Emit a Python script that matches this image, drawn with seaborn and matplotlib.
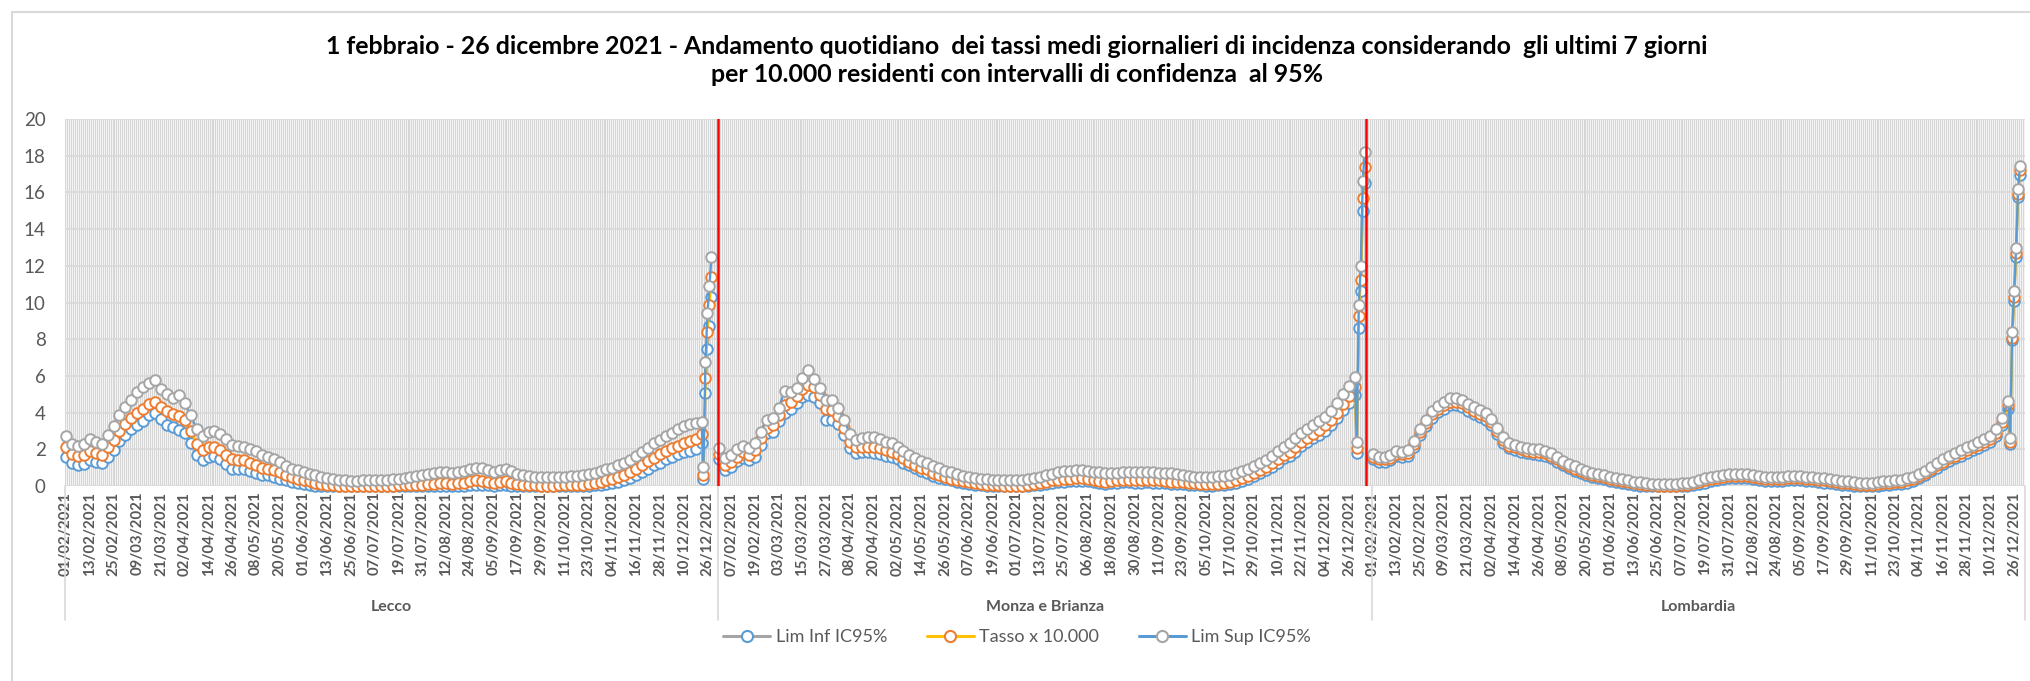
import numpy as np
import pandas as pd
import matplotlib
matplotlib.use('Agg')
import matplotlib.pyplot as plt
import seaborn as sns
from matplotlib.lines import Line2D
from matplotlib.patches import Rectangle

sns.set_theme(style='white')
plt.rcParams['font.family'] = ['Lato', 'DejaVu Sans']

# ---------------------------------------------------------------------------
# Data. Body values every 3rd day, then the last days one by one
# ---------------------------------------------------------------------------
regions = ['Lecco', 'Monza e Brianza', 'Lombardia']
n_slots = 330   # categories per region on the axis
step = 3        # body values are sampled every 3rd category

lecco_tasso = [2.15, 1.75, 1.65, 1.70, 1.90, 1.80, 1.70, 2.10, 2.50, 3.00,
               3.40, 3.70, 4.00, 4.20, 4.45, 4.60, 4.30, 4.10, 3.95, 3.80,
               3.60, 3.00, 2.30, 1.95, 2.10, 2.10, 1.95, 1.70, 1.45, 1.40,
               1.40, 1.25, 1.15, 1.00, 0.95, 0.85, 0.75, 0.60, 0.50, 0.40,
               0.33, 0.25, 0.15, 0.10, 0.06, 0.04, 0.02, 0.00, 0.00, 0.00,
               0.00, 0.00, 0.00, 0.00, 0.01, 0.02, 0.03, 0.05, 0.05, 0.06,
               0.08, 0.10, 0.12, 0.15, 0.15, 0.13, 0.15, 0.18, 0.25, 0.30,
               0.28, 0.20, 0.15, 0.22, 0.25, 0.18, 0.10, 0.06, 0.04, 0.03,
               0.02, 0.02, 0.02, 0.03, 0.03, 0.04, 0.06, 0.08, 0.12, 0.16,
               0.22, 0.30, 0.38, 0.50, 0.62, 0.78, 0.95, 1.15, 1.35, 1.55,
               1.72, 1.90, 2.05, 2.20, 2.35, 2.45, 2.55, 2.85]
lecco_sup = [2.70, 2.30, 2.20, 2.30, 2.55, 2.40, 2.30, 2.80, 3.25, 3.85,
             4.30, 4.70, 5.10, 5.40, 5.60, 5.75, 5.30, 5.00, 4.80, 4.95,
             4.50, 3.85, 3.10, 2.70, 2.95, 3.00, 2.85, 2.55, 2.25, 2.20,
             2.15, 2.00, 1.90, 1.70, 1.60, 1.45, 1.30, 1.10, 0.95, 0.85,
             0.78, 0.68, 0.58, 0.50, 0.42, 0.38, 0.34, 0.30, 0.28, 0.28,
             0.30, 0.30, 0.30, 0.32, 0.34, 0.36, 0.40, 0.45, 0.48, 0.52,
             0.58, 0.64, 0.70, 0.76, 0.78, 0.72, 0.76, 0.82, 0.92, 1.00,
             0.98, 0.85, 0.78, 0.86, 0.90, 0.80, 0.66, 0.58, 0.52, 0.50,
             0.48, 0.48, 0.48, 0.50, 0.50, 0.52, 0.56, 0.60, 0.66, 0.72,
             0.80, 0.90, 1.00, 1.12, 1.25, 1.42, 1.62, 1.85, 2.08, 2.32,
             2.52, 2.72, 2.90, 3.08, 3.25, 3.38, 3.45, 3.50]
lecco_inf = [1.60, 1.25, 1.15, 1.20, 1.40, 1.30, 1.25, 1.60, 1.95, 2.45,
             2.80, 3.10, 3.35, 3.55, 3.85, 4.00, 3.65, 3.35, 3.20, 3.05,
             2.90, 2.35, 1.70, 1.40, 1.60, 1.65, 1.45, 1.20, 0.95, 0.95,
             0.95, 0.80, 0.70, 0.62, 0.58, 0.48, 0.40, 0.30, 0.22, 0.16,
             0.12, 0.07, 0.02, 0.00, 0.00, 0.00, 0.00, 0.00, 0.00, 0.00,
             0.00, 0.00, 0.00, 0.00, 0.00, 0.00, 0.00, 0.00, 0.00, 0.00,
             0.00, 0.00, 0.00, 0.01, 0.01, 0.00, 0.01, 0.02, 0.05, 0.07,
             0.06, 0.03, 0.01, 0.03, 0.05, 0.02, 0.00, 0.00, 0.00, 0.00,
             0.00, 0.00, 0.00, 0.00, 0.00, 0.00, 0.00, 0.00, 0.01, 0.03,
             0.05, 0.09, 0.14, 0.22, 0.32, 0.45, 0.60, 0.78, 0.95, 1.12,
             1.28, 1.45, 1.58, 1.72, 1.85, 1.93, 2.00, 2.33]
lecco_tasso_end = [0.60, 5.90, 8.41, 9.86, 11.40]
lecco_sup_end = [1.05, 6.78, 9.41, 10.90, 12.50]
lecco_inf_end = [0.36, 5.05, 7.45, 8.72, 10.30]

monza_tasso = [1.75, 1.15, 1.30, 1.60, 1.85, 1.70, 1.97, 2.60, 3.15, 3.33,
               3.85, 4.40, 4.60, 4.90, 5.30, 5.50, 5.40, 4.95, 4.20, 4.15,
               3.80, 3.15, 2.40, 2.15, 2.15, 2.15, 2.15, 2.08, 1.95, 1.88,
               1.72, 1.50, 1.33, 1.15, 1.00, 0.90, 0.72, 0.60, 0.48, 0.40,
               0.33, 0.27, 0.22, 0.16, 0.12, 0.07, 0.05, 0.03, 0.02, 0.00,
               0.00, 0.02, 0.06, 0.12, 0.18, 0.24, 0.30, 0.34, 0.38, 0.40,
               0.42, 0.44, 0.40, 0.34, 0.28, 0.24, 0.26, 0.30, 0.33, 0.33,
               0.30, 0.32, 0.34, 0.32, 0.30, 0.28, 0.24, 0.22, 0.20, 0.17,
               0.14, 0.11, 0.10, 0.10, 0.12, 0.16, 0.22, 0.30, 0.42, 0.55,
               0.70, 0.88, 1.05, 1.25, 1.48, 1.70, 1.88, 2.10, 2.42, 2.62,
               2.85, 3.05, 3.30, 3.60, 4.00, 4.45, 4.90, 5.40]
monza_sup = [2.05, 1.50, 1.70, 2.00, 2.20, 2.05, 2.33, 2.97, 3.60, 3.70,
             4.25, 5.20, 5.10, 5.35, 5.90, 6.30, 5.85, 5.35, 4.70, 4.70,
             4.25, 3.60, 2.85, 2.50, 2.60, 2.66, 2.68, 2.55, 2.42, 2.33,
             2.12, 1.90, 1.70, 1.52, 1.36, 1.24, 1.08, 0.96, 0.84, 0.76,
             0.66, 0.56, 0.50, 0.45, 0.40, 0.36, 0.34, 0.33, 0.32, 0.32,
             0.33, 0.35, 0.38, 0.42, 0.50, 0.58, 0.68, 0.76, 0.80, 0.84,
             0.86, 0.87, 0.84, 0.78, 0.74, 0.70, 0.70, 0.72, 0.74, 0.75,
             0.74, 0.76, 0.78, 0.76, 0.73, 0.72, 0.70, 0.66, 0.60, 0.55,
             0.51, 0.50, 0.50, 0.50, 0.52, 0.56, 0.62, 0.70, 0.80, 0.94,
             1.08, 1.25, 1.42, 1.65, 1.90, 2.15, 2.35, 2.60, 2.88, 3.10,
             3.32, 3.52, 3.78, 4.10, 4.50, 5.00, 5.45, 5.96]
monza_inf = [1.45, 0.87, 1.05, 1.35, 1.55, 1.40, 1.60, 2.24, 2.88, 2.97,
             3.55, 4.00, 4.20, 4.50, 4.85, 4.97, 4.85, 4.50, 3.60, 3.60,
             3.40, 2.80, 2.05, 1.80, 1.85, 1.88, 1.82, 1.76, 1.66, 1.60,
             1.45, 1.28, 1.15, 0.96, 0.80, 0.70, 0.52, 0.44, 0.36, 0.30,
             0.22, 0.14, 0.10, 0.06, 0.03, 0.00, 0.00, 0.00, 0.00, 0.00,
             0.00, 0.00, 0.00, 0.04, 0.08, 0.12, 0.17, 0.20, 0.24, 0.26,
             0.28, 0.29, 0.26, 0.21, 0.16, 0.12, 0.14, 0.17, 0.20, 0.20,
             0.17, 0.19, 0.21, 0.19, 0.17, 0.16, 0.13, 0.11, 0.10, 0.08,
             0.05, 0.03, 0.02, 0.02, 0.03, 0.06, 0.11, 0.18, 0.28, 0.40,
             0.54, 0.70, 0.86, 1.05, 1.28, 1.50, 1.66, 1.88, 2.18, 2.38,
             2.60, 2.78, 3.02, 3.32, 3.70, 4.12, 4.55, 4.96]
monza_tasso_end = [2.05, 9.27, 11.24, 15.70, 17.40]
monza_sup_end = [2.42, 9.87, 12.00, 16.60, 18.20]
monza_inf_end = [1.78, 8.60, 10.60, 14.96, 16.50]

lomb_tasso = [1.60, 1.45, 1.45, 1.55, 1.75, 1.72, 1.80, 2.30, 2.95, 3.45,
              3.90, 4.20, 4.40, 4.60, 4.60, 4.50, 4.30, 4.10, 3.95, 3.80,
              3.50, 3.00, 2.50, 2.20, 2.10, 2.00, 1.92, 1.88, 1.85, 1.78,
              1.65, 1.45, 1.25, 1.10, 0.95, 0.82, 0.72, 0.62, 0.55, 0.48,
              0.40, 0.33, 0.26, 0.20, 0.14, 0.10, 0.06, 0.03, 0.02, 0.01,
              0.01, 0.02, 0.04, 0.08, 0.14, 0.22, 0.30, 0.38, 0.45, 0.50,
              0.53, 0.55, 0.55, 0.52, 0.48, 0.44, 0.40, 0.38, 0.37, 0.40,
              0.42, 0.43, 0.42, 0.39, 0.36, 0.34, 0.30, 0.26, 0.22, 0.18,
              0.15, 0.11, 0.08, 0.06, 0.08, 0.12, 0.15, 0.18, 0.20, 0.24,
              0.30, 0.40, 0.55, 0.72, 0.92, 1.12, 1.32, 1.50, 1.64, 1.80,
              1.95, 2.10, 2.25, 2.40, 2.55, 2.90, 3.50, 4.40]
lomb_sup = [1.74, 1.58, 1.58, 1.68, 1.89, 1.86, 1.94, 2.45, 3.11, 3.62,
            4.08, 4.38, 4.59, 4.79, 4.79, 4.69, 4.49, 4.28, 4.13, 3.98,
            3.67, 3.16, 2.65, 2.34, 2.24, 2.14, 2.06, 2.02, 1.99, 1.92,
            1.78, 1.58, 1.38, 1.22, 1.07, 0.94, 0.83, 0.73, 0.66, 0.59,
            0.51, 0.43, 0.36, 0.30, 0.24, 0.20, 0.16, 0.13, 0.12, 0.11,
            0.11, 0.12, 0.14, 0.18, 0.24, 0.32, 0.41, 0.49, 0.56, 0.61,
            0.64, 0.66, 0.66, 0.63, 0.59, 0.55, 0.51, 0.49, 0.48, 0.51,
            0.53, 0.54, 0.53, 0.50, 0.47, 0.45, 0.41, 0.37, 0.33, 0.29,
            0.26, 0.22, 0.19, 0.17, 0.19, 0.23, 0.26, 0.29, 0.31, 0.35,
            0.41, 0.51, 0.67, 0.84, 1.04, 1.25, 1.45, 1.64, 1.78, 1.95,
            2.10, 2.26, 2.41, 2.56, 2.72, 3.08, 3.69, 4.62]
lomb_inf = [1.47, 1.32, 1.32, 1.42, 1.61, 1.58, 1.66, 2.15, 2.79, 3.28,
            3.72, 4.02, 4.21, 4.41, 4.41, 4.31, 4.11, 3.92, 3.77, 3.62,
            3.33, 2.84, 2.35, 2.06, 1.96, 1.86, 1.78, 1.74, 1.71, 1.64,
            1.52, 1.32, 1.12, 0.98, 0.83, 0.70, 0.61, 0.51, 0.44, 0.37,
            0.29, 0.23, 0.16, 0.10, 0.04, 0.00, 0.00, 0.00, 0.00, 0.00,
            0.00, 0.00, 0.00, 0.00, 0.04, 0.12, 0.19, 0.27, 0.34, 0.39,
            0.42, 0.44, 0.44, 0.41, 0.37, 0.33, 0.29, 0.27, 0.26, 0.29,
            0.31, 0.32, 0.31, 0.28, 0.25, 0.23, 0.19, 0.15, 0.11, 0.07,
            0.04, 0.00, 0.00, 0.00, 0.00, 0.01, 0.04, 0.07, 0.09, 0.13,
            0.19, 0.29, 0.43, 0.60, 0.80, 0.99, 1.19, 1.36, 1.50, 1.65,
            1.80, 1.94, 2.09, 2.24, 2.38, 2.72, 3.31, 4.18]
lomb_tasso_end = [2.42, 8.05, 10.30, 12.70, 15.90, 17.20]
lomb_sup_end = [2.60, 8.38, 10.60, 12.96, 16.20, 17.45]
lomb_inf_end = [2.27, 7.93, 10.10, 12.50, 15.75, 16.96]

# category labels shown every 12th category
lecco_ticks = ['01/02', '13/02', '25/02', '09/03', '21/03', '02/04', '14/04',
               '26/04', '08/05', '20/05', '01/06', '13/06', '25/06', '07/07',
               '19/07', '31/07', '12/08', '24/08', '05/09', '17/09', '29/09',
               '11/10', '23/10', '04/11', '16/11', '28/11', '10/12', '26/12']
monza_ticks = ['07/02', '19/02', '03/03', '15/03', '27/03', '08/04', '20/04',
               '02/05', '14/05', '26/05', '07/06', '19/06', '01/07', '13/07',
               '25/07', '06/08', '18/08', '30/08', '11/09', '23/09', '05/10',
               '17/10', '29/10', '10/11', '22/11', '04/12', '26/12']
lomb_ticks = list(lecco_ticks)

series_names = ['Lim Inf IC95%', 'Tasso x 10.000', 'Lim Sup IC95%']
line_colors = ['#A5A5A5', '#FFC000', '#5B9BD5']
edge_colors = ['#5B9BD5', '#ED7D31', '#A5A5A5']

# ---------------------------------------------------------------------------
# Long table
# ---------------------------------------------------------------------------
region_data = {
    'Lecco': [(lecco_inf, lecco_inf_end), (lecco_tasso, lecco_tasso_end), (lecco_sup, lecco_sup_end)],
    'Monza e Brianza': [(monza_inf, monza_inf_end), (monza_tasso, monza_tasso_end), (monza_sup, monza_sup_end)],
    'Lombardia': [(lomb_inf, lomb_inf_end), (lomb_tasso, lomb_tasso_end), (lomb_sup, lomb_sup_end)],
}
frames = []
for r, reg in enumerate(regions):
    for name, (body, tail) in zip(series_names, region_data[reg]):
        body_pos = r * n_slots + step * np.arange(len(body))
        tail_pos = body_pos[-1] + 1 + np.arange(len(tail))
        frames.append(pd.DataFrame({'pos': np.concatenate([body_pos, tail_pos]),
                                    'value': list(body) + list(tail),
                                    'series': name, 'region': reg}))
df = pd.concat(frames, ignore_index=True)

tick_labels = [t + '/2021' for t in lecco_ticks + monza_ticks + lomb_ticks]
tick_pos = np.arange(len(tick_labels)) * 12
n_total = n_slots * len(regions)

# ---------------------------------------------------------------------------
# Figure
# ---------------------------------------------------------------------------
W, H = 2031, 681
fig = plt.figure(figsize=(W / 100, H / 100), dpi=100)
ax = fig.add_axes([65 / W, 1 - 486 / H, 1960 / W, 367 / H])

grey_txt = '#595959'
grid_col = '#d9d9d9'

# dense vertical gridlines, one per category (Excel style)
ax.vlines(np.arange(-0.5, n_total, 1), 0, 20, color='#d6d6d6', lw=0.9, zorder=0)
for yv in range(0, 21, 2):
    ax.axhline(yv, color=grid_col, lw=1.2, zorder=0.5)

for name, lc, ec in zip(series_names, line_colors, edge_colors):
    sns.lineplot(data=df[df['series'] == name], x='pos', y='value', units='region',
                 estimator=None, ax=ax, color=lc, linewidth=1.7, marker='o',
                 markersize=7.6, markerfacecolor='white', markeredgecolor=ec,
                 markeredgewidth=1.4, legend=False, zorder=3, clip_on=False)

# red separators: end of Lecco group and after the last Monza point
red_x = [n_slots - 0.5, df.loc[df['region'] == 'Monza e Brianza', 'pos'].max() + 0.5]
for xv in red_x:
    ax.axvline(xv, color='#FF0000', lw=1.8, zorder=4)

ax.set_xlim(-0.5, n_total - 0.5)
ax.set_ylim(0, 20)
ax.set_yticks(range(0, 21, 2))
ax.set_xticks(tick_pos)
ax.set_xticklabels(tick_labels, rotation=90, fontweight='bold', fontsize=10.8, color=grey_txt)
ax.tick_params(axis='x', length=0, pad=4)
ax.tick_params(axis='y', length=0, pad=14, labelsize=13.5, labelcolor=grey_txt)
ax.set_xlabel('')
ax.set_ylabel('')
for s in ax.spines.values():
    s.set_visible(False)

# group labels and group separators under the axis
trans = ax.get_xaxis_transform()
for r, reg in enumerate(regions):
    ax.text(r * n_slots + (n_slots - 1) / 2, -0.33, reg, transform=trans, ha='center',
            va='center', fontsize=11.5, fontweight='bold', color=grey_txt)
for b in np.arange(len(regions) + 1) * n_slots - 0.5:
    ax.plot([b, b], [0, -0.365], transform=trans, color=grid_col, lw=1.2, clip_on=False)

# legend
handles = [Line2D([0], [0], color=lc, lw=2.2, marker='o', markersize=8,
                  markerfacecolor='white', markeredgecolor=ec, markeredgewidth=1.5)
           for lc, ec in zip(line_colors, edge_colors)]
leg = fig.legend(handles, series_names, loc='center', bbox_to_anchor=(1017 / W, 1 - 637 / H),
                 ncol=3, frameon=False, fontsize=13, handlelength=2.6, columnspacing=2.2,
                 handletextpad=0.3)
for t in leg.get_texts():
    t.set_color(grey_txt)

# title
fig.text(1017 / W, 1 - 47 / H,
         '1 febbraio - 26 dicembre 2021 - Andamento quotidiano  dei tassi medi giornalieri di incidenza considerando  gli ultimi 7 giorni',
         ha='center', va='center', fontsize=17.9, fontweight='bold', color='black')
fig.text(1017 / W, 1 - 74 / H, 'per 10.000 residenti con intervalli di confidenza  al 95%',
         ha='center', va='center', fontsize=17.9, fontweight='bold', color='black')

# chart border
fig.patches.append(Rectangle((12 / W, -0.1), 1.2, 1.1 - 12 / H, transform=fig.transFigure,
                             fill=False, edgecolor=grid_col, lw=1.5))

fig.savefig('out.png', dpi=100)
